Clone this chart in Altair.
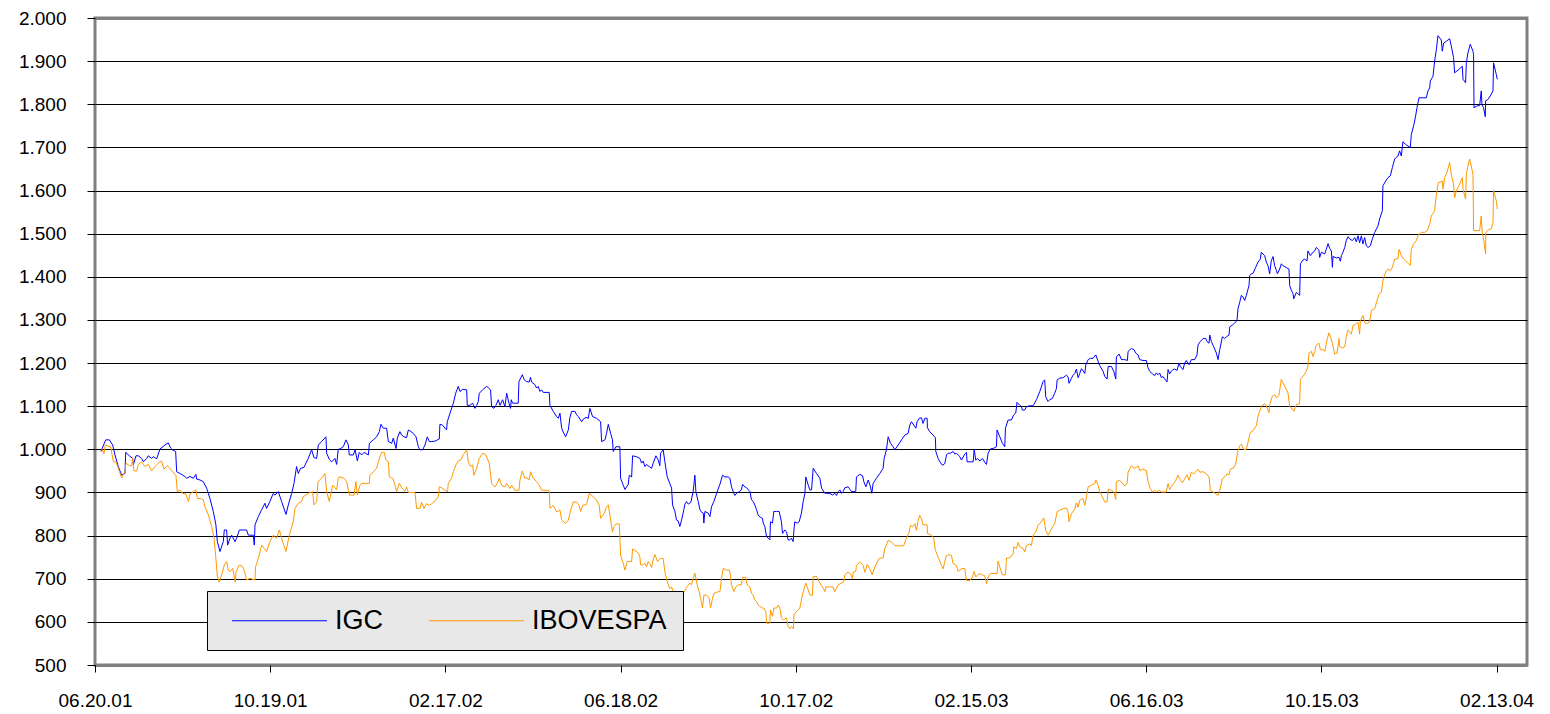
import altair as alt
import pandas as pd

# ---- axis definitions -------------------------------------------------
TICK_DAYS = [0, 121, 242, 363, 484, 605, 726, 847, 968]          # days after 06.20.01
TICK_LABELS = ["06.20.01", "10.19.01", "02.17.02", "06.18.02", "10.17.02",
               "02.15.03", "06.16.03", "10.15.03", "02.13.04"]
Y_TICKS = list(range(500, 2001, 100))
SERIES = ["IGC", "IBOVESPA"]
COLORS = ["#0000FF", "#FF9900"]

# ---- series (day after 06.20.01, index level) -------------------------
igc = [
    (4.1, 995), (7.4, 1022), (9.9, 1022), (12.2, 1010), (13.8, 987), (16.1, 960), (18.4, 940), (20.7, 944),
    (21.2, 993), (23.7, 985), (26.0, 979), (26.5, 964), (28.3, 985), (29.9, 985), (32.2, 979), (33.4, 971),
    (35.7, 979), (36.8, 985), (39.1, 979), (40.3, 983), (42.6, 978), (44.9, 1001), (48.3, 1010), (50.6, 1015),
    (52.2, 1003), (53.4, 999), (55.7, 995), (56.4, 948), (59.2, 943), (62.1, 937), (63.3, 933), (65.6, 937),
    (67.9, 933), (69.7, 942), (70.2, 931), (72.5, 929), (74.8, 925), (77.1, 910), (79.4, 886), (81.7, 856),
    (83.5, 825), (84.5, 786), (86.3, 763), (88.6, 786), (89.3, 813), (90.9, 813), (91.6, 778), (93.2, 794),
    (94.4, 801), (96.7, 786), (97.8, 794), (99.7, 813), (102.4, 813), (104.7, 813), (105.9, 801), (109.3, 801),
    (110.0, 778), (110.5, 825), (112.8, 844), (115.1, 860), (117.4, 875), (118.5, 863), (120.8, 879), (123.1, 898),
    (124.3, 894), (126.6, 902), (128.9, 879), (131.9, 849), (133.5, 871), (135.8, 898), (137.4, 920), (139.2, 960),
    (140.4, 944), (142.0, 956), (144.3, 958), (145.7, 968), (147.3, 979), (149.6, 999), (151.2, 981), (153.1, 979),
    (154.2, 1010), (156.5, 1018), (159.5, 1029), (160.0, 991), (161.8, 977), (163.4, 971), (165.7, 979), (166.9, 965),
    (168.0, 1000),
    (169.2, 1001), (171.5, 1006), (173.3, 1022), (175.0, 1010), (175.6, 987), (178.4, 987), (179.6, 999), (181.2, 973),
    (182.5, 993), (184.2, 987), (185.8, 993), (188.8, 987), (189.5, 1014), (192.2, 1022), (194.5, 1029), (196.4, 1041),
    (197.5, 1058), (199.1, 1049), (201.4, 1049), (202.6, 1018), (204.9, 1014), (206.0, 1026), (207.9, 1002), (208.8, 1026),
    (210.6, 1041), (211.8, 1033), (213.4, 1029), (215.2, 1027), (216.4, 1045), (217.5, 1043), (219.8, 1037), (221.7, 1029),
    (223.3, 1006), (224.4, 999), (226.3, 999), (227.9, 1010), (229.5, 1029), (230.9, 1018), (232.5, 1018), (234.8, 1019),
    (237.8, 1024), (238.2, 1058), (240.1, 1056), (241.7, 1049), (242.8, 1045), (243.3, 1064), (245.2, 1084), (247.5, 1107),
    (249.1, 1130), (250.9, 1146), (252.1, 1134), (253.9, 1139), (256.7, 1138), (257.1, 1102), (258.9, 1102), (260.8, 1107),
    (262.4, 1095), (263.6, 1102), (264.7, 1111), (265.4, 1130), (267.7, 1138), (270.5, 1146), (271.6, 1143), (273.2, 1138),
    (273.9, 1099), (275.5, 1095), (276.9, 1102), (278.5, 1115), (279.7, 1102), (281.5, 1115), (283.1, 1099), (284.3, 1130),
    (285.9, 1107), (287.0, 1095), (287.5, 1115), (288.4, 1107), (292.3, 1107), (292.8, 1157), (295.1, 1173), (296.5, 1161),
    (298.1, 1157), (299.9, 1156), (300.8, 1167), (301.5, 1156), (303.8, 1150), (305.0, 1142), (306.1, 1146), (307.3, 1134),
    (308.4, 1138), (309.6, 1132), (313.7, 1132), (314.2, 1102), (316.5, 1088), (318.8, 1076), (320.0, 1072), (321.1, 1084),
    (322.3, 1049), (323.4, 1040), (325.0, 1029), (326.9, 1045), (328.0, 1074), (329.2, 1088), (331.5, 1088), (332.6, 1080),
    (333.8, 1076), (336.1, 1064), (337.2, 1070), (339.1, 1074), (340.7, 1072), (341.8, 1095),
    (343.6, 1076), (346.4, 1072), (349.2, 1064), (349.9, 1018), (352.2, 1022), (353.3, 1037), (354.5, 1058), (356.1, 1037),
    (357.4, 1022), (357.9, 995), (359.8, 1006), (362.5, 1006), (363.0, 933), (364.8, 917), (366.0, 907), (368.3, 919),
    (369.0, 940), (370.6, 936), (371.3, 985), (374.0, 983), (376.3, 979), (377.5, 968), (378.6, 973), (379.8, 960),
    (380.9, 965), (382.8, 960), (384.4, 956), (385.5, 968), (387.4, 985), (389.0, 975), (390.1, 962), (390.6, 991),
    (392.4, 999), (393.6, 971), (395.2, 936), (397.0, 921), (398.2, 910), (398.9, 871), (400.5, 856), (401.6, 836),
    (402.8, 834), (403.9, 821), (405.1, 836), (406.7, 860), (407.4, 873), (408.5, 879), (409.7, 873), (411.5, 877),
    (413.1, 902), (414.3, 940), (415.0, 902), (416.6, 879), (417.8, 860), (418.4, 856), (420.1, 852), (420.5, 829),
    (421.2, 856), (423.5, 852), (424.7, 844), (425.8, 867), (427.4, 879), (429.3, 898), (431.6, 919), (433.4, 940),
    (435.0, 936), (437.3, 936), (438.5, 933), (439.6, 913), (441.2, 898), (441.9, 893), (443.1, 898), (444.9, 902),
    (446.5, 906), (447.2, 919), (448.8, 913), (450.0, 911), (452.3, 902), (453.4, 883), (454.6, 879), (455.7, 871),
    (456.9, 860), (458.0, 848), (459.6, 842), (461.0, 840), (461.5, 829), (462.6, 821), (463.8, 798), (464.9, 794),
    (466.1, 790), (466.5, 832), (467.9, 829), (468.8, 856), (470.7, 856), (472.5, 856), (474.1, 832), (474.8, 805),
    (476.4, 813), (477.6, 809), (478.7, 790), (479.9, 790), (481.0, 794), (482.2, 786), (482.7, 813), (483.3, 832),
    (485.0, 829), (486.3, 832), (487.9, 852), (489.1, 879), (490.3, 898), (490.9, 936), (492.6, 917), (493.7, 906),
    (494.9, 906), (496.0, 956), (498.3, 944), (500.6, 933), (501.8, 910), (504.1, 898), (505.2, 898), (507.5, 898),
    (509.4, 894), (511.0, 898), (512.1, 893), (513.3, 902), (514.4, 906), (515.6, 898), (516.7, 902), (517.9, 911),
    (520.2, 913),
    (520.8, 910), (522.5, 902), (525.4, 902), (525.9, 936), (528.2, 942), (530.1, 939), (531.0, 925), (532.4, 913),
    (534.0, 929), (535.6, 913), (536.5, 898), (537.4, 921), (539.7, 933), (542.0, 944), (544.3, 956), (545.0, 979),
    (546.6, 999), (547.8, 1029), (549.4, 1014), (551.2, 1006), (552.4, 999), (554.7, 1010), (557.0, 1022), (559.3, 1033),
    (561.6, 1037), (562.7, 1056), (563.9, 1064), (565.5, 1056), (566.9, 1049), (567.8, 1064), (569.2, 1072), (570.8, 1073),
    (571.9, 1060), (573.1, 1072), (574.7, 1072), (574.9, 1050), (576.5, 1041), (578.8, 1033), (580.4, 1027), (580.7, 995),
    (582.3, 979), (583.5, 971), (585.3, 963), (586.9, 967), (588.1, 987), (589.2, 991), (590.8, 991), (592.7, 995),
    (593.8, 989), (594.9, 991), (596.1, 987), (597.3, 983), (598.4, 975), (600.7, 989), (601.9, 993), (602.3, 971),
    (606.5, 971), (607.2, 1000), (608.3, 975), (609.5, 979), (611.1, 973), (612.9, 979), (614.5, 970), (615.7, 965),
    (616.8, 991), (618.4, 1001), (620.3, 1002), (622.6, 1006), (623.0, 1045), (624.9, 1029), (626.7, 1014), (628.3, 1006),
    (628.8, 1049), (630.6, 1068), (632.9, 1068), (634.5, 1080), (635.9, 1084), (636.8, 1109), (638.7, 1102), (639.8, 1099),
    (640.5, 1091), (642.1, 1091), (643.3, 1099), (645.6, 1101), (647.9, 1101), (650.2, 1115), (652.5, 1134), (654.8, 1157),
    (655.9, 1161), (656.6, 1122), (658.2, 1111), (659.4, 1115), (661.2, 1118), (662.8, 1130), (664.0, 1141), (664.5, 1161),
    (666.3, 1165), (668.6, 1166), (670.9, 1172), (672.1, 1168), (672.7, 1153), (674.4, 1165), (675.5, 1172), (676.7, 1176),
    (677.8, 1186), (679.0, 1166), (680.1, 1176), (681.3, 1187), (683.6, 1176), (684.3, 1196), (685.9, 1208), (687.5, 1211),
    (689.3, 1211), (691.2, 1219), (692.8, 1204), (693.9, 1194),
    (696.2, 1181), (697.4, 1169), (699.0, 1163), (699.7, 1192), (702.0, 1192), (703.6, 1181), (705.0, 1163), (705.4, 1214),
    (707.3, 1221), (708.9, 1208), (711.2, 1208), (713.0, 1206), (713.5, 1227), (715.8, 1234), (717.6, 1231), (718.8, 1223),
    (720.4, 1219), (721.5, 1208), (723.8, 1206), (726.1, 1206), (727.3, 1189), (728.4, 1181), (730.3, 1175), (731.9, 1171),
    (733.0, 1177), (734.2, 1173), (735.3, 1177), (736.5, 1166), (737.6, 1169), (738.8, 1163), (740.4, 1156), (741.1, 1185),
    (742.2, 1175), (743.4, 1181), (744.5, 1185), (745.7, 1186), (747.3, 1183), (748.7, 1200), (749.6, 1192), (751.4, 1185),
    (752.6, 1200), (753.7, 1206), (755.6, 1196), (757.2, 1208), (759.5, 1208), (761.1, 1219), (761.8, 1242), (763.4, 1250),
    (765.3, 1257), (767.1, 1257), (768.0, 1250), (769.4, 1246), (769.9, 1265), (771.0, 1250), (772.6, 1238), (774.5, 1223),
    (775.6, 1208), (776.8, 1231), (778.6, 1261), (780.2, 1257), (781.4, 1261), (783.2, 1265), (783.7, 1284), (785.5, 1288),
    (787.1, 1293), (788.7, 1298), (789.4, 1326), (790.6, 1341), (791.7, 1357), (792.9, 1353), (794.0, 1345), (795.2, 1357),
    (797.0, 1380), (797.5, 1403), (798.6, 1407), (799.8, 1408), (801.6, 1422), (803.2, 1434), (804.8, 1441), (805.5, 1457),
    (807.8, 1449), (809.0, 1434), (810.1, 1426), (811.3, 1407), (812.4, 1437), (813.6, 1447), (814.7, 1426), (815.9, 1415),
    (816.6, 1407), (818.2, 1418), (819.3, 1430), (820.5, 1426), (822.8, 1421), (824.6, 1418), (825.1, 1380), (826.2, 1369),
    (827.4, 1361), (827.9, 1349), (829.7, 1364), (832.0, 1357), (832.5, 1430), (834.3, 1439), (835.4, 1441), (837.1, 1437),
    (837.7, 1460), (839.4, 1449), (841.2, 1457), (842.4, 1460), (843.5, 1468), (845.3, 1462), (845.8, 1445), (847.0, 1457),
    (849.3, 1453), (850.4, 1464), (851.6, 1477), (852.7, 1466), (853.9, 1460), (854.6, 1422), (855.0, 1447), (857.3, 1444),
    (859.2, 1445), (860.1, 1436), (860.8, 1449), (861.9, 1457), (863.1, 1468), (864.2, 1484), (865.4, 1493),
    (866.5, 1488), (868.4, 1484), (870.0, 1491), (871.1, 1481), (872.3, 1495), (873.4, 1479), (874.6, 1495), (875.7, 1476),
    (876.9, 1491), (878.0, 1472), (879.2, 1468), (880.8, 1472), (882.2, 1488), (883.8, 1503), (886.1, 1518), (887.2, 1534),
    (889.1, 1553), (889.5, 1611), (891.4, 1622), (893.0, 1630), (894.6, 1634), (896.0, 1653), (897.6, 1673), (898.7, 1677),
    (899.9, 1680), (901.0, 1692), (902.2, 1680), (903.3, 1713), (905.2, 1707), (906.8, 1703), (908.4, 1700), (909.1, 1730),
    (910.7, 1750), (912.1, 1773), (913.0, 1792), (914.4, 1815), (917.2, 1815), (919.5, 1815), (920.6, 1831), (921.8, 1838),
    (922.2, 1854), (924.1, 1865), (925.2, 1900), (926.4, 1927), (927.5, 1959), (929.8, 1949), (930.5, 1923), (931.4, 1942),
    (933.3, 1946), (935.6, 1952), (936.7, 1935), (938.3, 1908), (939.0, 1873), (940.6, 1877), (942.0, 1881), (944.3, 1888),
    (944.8, 1858), (946.6, 1850), (947.1, 1896), (948.2, 1919), (949.8, 1939), (951.7, 1923), (952.1, 1915), (952.4, 1792),
    (954.4, 1796), (956.3, 1797), (957.4, 1831), (957.9, 1799), (959.0, 1792), (960.2, 1771), (960.4, 1808), (962.0, 1811),
    (963.6, 1819), (965.5, 1831), (965.9, 1896), (967.8, 1869), (968.5, 1858),
]

ibov = [
    (4.6, 1001), (6.2, 990), (7.1, 1010), (10.8, 1006), (12.7, 971), (14.5, 971), (16.1, 956), (18.4, 934),
    (20.7, 948), (21.4, 968), (23.7, 962), (25.3, 962), (26.0, 979), (26.9, 950), (28.8, 950), (29.9, 965),
    (32.2, 971), (34.5, 960), (36.8, 965), (39.1, 950), (41.4, 960), (43.7, 968), (46.0, 973), (47.6, 954),
    (49.9, 962), (51.8, 956), (53.6, 948), (55.9, 939), (56.9, 901), (58.7, 906), (60.5, 898), (62.8, 896),
    (64.5, 879), (65.6, 896), (67.9, 902), (69.7, 906), (70.7, 886), (73.0, 886), (74.8, 883), (75.9, 867),
    (78.3, 848), (80.6, 821), (82.2, 794), (83.5, 747), (84.5, 705), (85.8, 692), (87.5, 709), (89.3, 732),
    (90.9, 740), (92.1, 720), (93.2, 716), (95.1, 724), (96.9, 692), (97.4, 716), (99.7, 732), (102.0, 728),
    (103.6, 713), (104.7, 697), (107.0, 701), (110.5, 697), (110.9, 728), (112.8, 747), (115.1, 778), (118.5, 763),
    (120.8, 786), (123.1, 801), (125.4, 794), (127.3, 813), (129.6, 786), (131.9, 763), (134.2, 801), (136.9, 832),
    (138.1, 863), (140.4, 875), (142.7, 879), (143.8, 890), (147.3, 898), (150.3, 902), (151.2, 871), (153.1, 879),
    (154.0, 925), (156.5, 933), (158.8, 944), (160.0, 902), (161.8, 879), (164.1, 917), (166.9, 906), (168.0, 934),
    (169.2, 936), (172.0, 933), (173.8, 925), (175.6, 894), (178.9, 894), (180.2, 925), (181.2, 894), (183.0, 917),
    (184.2, 921), (189.5, 921), (189.9, 940), (192.2, 948), (194.5, 956), (195.7, 971), (196.8, 983), (198.0, 993),
    (199.8, 993), (200.9, 975), (202.6, 971), (203.3, 936), (205.6, 933), (207.2, 917), (208.3, 902), (210.2, 921),
    (211.8, 911), (214.1, 903), (215.2, 913), (216.4, 900), (221.0, 900), (222.1, 863), (224.4, 863), (225.6, 877),
    (227.2, 863), (229.0, 874), (230.9, 870), (232.5, 874), (234.8, 880), (237.1, 890), (237.8, 913), (239.4, 911),
    (241.7, 905), (243.5, 902), (244.0, 921), (246.3, 933), (247.5, 948), (249.3, 964), (250.9, 973), (252.5, 975),
    (254.4, 988), (256.7, 999), (257.8, 971), (259.4, 960), (260.8, 964), (261.7, 940), (263.6, 956), (265.4, 979),
    (267.7, 991), (270.0, 987), (272.3, 967), (273.9, 921), (276.2, 913), (277.8, 921), (279.2, 933), (280.8, 917),
    (283.1, 913), (284.3, 921), (286.6, 909), (287.7, 917), (290.0, 905), (292.8, 905), (293.5, 929), (295.1, 950),
    (296.9, 933), (298.1, 934), (299.9, 929), (300.8, 948), (302.7, 933), (305.0, 925), (306.8, 917), (308.4, 905),
    (313.7, 905), (314.2, 863), (316.5, 870), (318.8, 855), (321.1, 859), (322.3, 836), (325.0, 828), (326.9, 836),
    (328.5, 859), (330.3, 878), (332.6, 878), (334.4, 870), (335.4, 856), (336.8, 870), (339.5, 872), (341.4, 898),
    (344.1, 890), (346.4, 883), (348.2, 871), (349.2, 840), (351.0, 848), (352.2, 856), (353.3, 867), (354.5, 871),
    (355.6, 848), (357.4, 808), (358.4, 821), (359.8, 827), (362.1, 827), (363.0, 755), (364.8, 736), (366.0, 720),
    (367.6, 740), (370.6, 740), (371.3, 769), (373.6, 764), (375.2, 759), (376.3, 751), (376.8, 732), (378.6, 732),
    (379.8, 736), (380.9, 728), (382.1, 740), (383.7, 732), (384.4, 726), (385.5, 744), (386.7, 756), (388.5, 740),
    (389.7, 744), (390.6, 747), (392.4, 747), (393.6, 716), (395.2, 693), (397.0, 677), (398.2, 681), (399.3, 670),
    (401.2, 666), (404.0, 660), (406.2, 665), (408.5, 680), (410.8, 690), (412.0, 686), (413.1, 701), (414.3, 713),
    (415.9, 686), (417.3, 670), (418.2, 655), (419.6, 632), (420.5, 662), (422.4, 662), (424.2, 655), (425.1, 632),
    (426.5, 655), (427.4, 666), (430.4, 670), (431.6, 670), (432.7, 701), (433.9, 724), (436.2, 720), (438.0, 720),
    (438.5, 716), (439.6, 686), (441.2, 670), (442.6, 681), (444.2, 686), (446.5, 686), (447.2, 703), (449.5, 703),
    (450.4, 686), (452.3, 681), (453.4, 666), (454.6, 662), (455.7, 651), (456.9, 647), (458.0, 639), (459.2, 636),
    (461.0, 632), (461.9, 632), (463.3, 624), (463.8, 597), (466.1, 597), (466.5, 628), (467.9, 613), (468.8, 632),
    (470.7, 632), (471.8, 639), (473.0, 632), (474.1, 609), (475.3, 605), (477.6, 609), (478.7, 589), (479.9, 584),
    (481.0, 589), (482.4, 584), (482.7, 616), (484.5, 624), (486.8, 632), (487.9, 651), (489.1, 670), (490.9, 690),
    (492.6, 674), (493.7, 662), (495.5, 662), (496.0, 705), (498.3, 705), (500.6, 690), (502.9, 678), (504.1, 670),
    (504.7, 681), (509.8, 681), (510.9, 670), (512.1, 678), (513.3, 686), (515.6, 690), (517.2, 693), (517.9, 709),
    (520.2, 716),
    (522.5, 707), (523.1, 700), (523.6, 715), (525.4, 717), (525.9, 731), (528.2, 739), (530.5, 731), (531.7, 715),
    (533.3, 733), (535.1, 723), (536.7, 709), (538.6, 727), (540.9, 743), (542.0, 748), (544.3, 748), (545.5, 770),
    (547.8, 789), (550.1, 785), (552.4, 777), (554.7, 776), (557.0, 776), (558.6, 777), (560.4, 794), (562.3, 808),
    (563.2, 824), (564.6, 820), (566.2, 828), (567.3, 812), (568.5, 835), (569.6, 847), (570.8, 839), (571.9, 825),
    (574.7, 825), (574.9, 805), (577.7, 801), (579.3, 793), (580.4, 766), (582.3, 750), (584.6, 731), (585.7, 723),
    (588.0, 754), (589.9, 756), (591.5, 754), (592.7, 735), (594.9, 731), (596.1, 717), (598.4, 723), (600.7, 724),
    (601.9, 696), (604.2, 696), (606.0, 704), (607.2, 717), (608.3, 704), (610.6, 712), (612.9, 709), (614.5, 707),
    (615.7, 688), (616.8, 704), (618.4, 712), (623.0, 712), (623.7, 741), (624.9, 727), (626.7, 709), (628.8, 709),
    (629.5, 748), (631.8, 748), (634.1, 758), (634.5, 774), (636.4, 770), (637.5, 784), (638.7, 774), (641.0, 770),
    (642.1, 762), (643.3, 777), (645.6, 781), (646.7, 777), (647.9, 801), (649.7, 808), (651.3, 824), (653.6, 832),
    (655.3, 841), (656.6, 812), (658.2, 801), (659.4, 808), (661.2, 820), (662.8, 828), (664.5, 855), (666.3, 859),
    (668.6, 862), (670.9, 864), (672.1, 855), (672.7, 832), (674.4, 851), (676.7, 862), (677.8, 876), (679.0, 866),
    (680.1, 882), (682.4, 886), (683.6, 870), (684.7, 889), (685.9, 913), (688.2, 917), (690.5, 921), (691.2, 929),
    (692.8, 917), (693.9, 902),
    (695.7, 890), (697.4, 878), (699.0, 878), (699.7, 907), (702.0, 905), (703.6, 901), (705.0, 884), (705.4, 925),
    (707.7, 928), (709.6, 921), (711.2, 915), (712.8, 921), (713.5, 947), (715.8, 962), (717.6, 956), (719.2, 958),
    (720.4, 962), (721.5, 951), (723.8, 954), (726.1, 951), (727.3, 925), (728.9, 909), (730.3, 901), (731.9, 905),
    (733.0, 901), (734.9, 905), (736.5, 901), (739.9, 901), (741.1, 921), (742.2, 907), (743.4, 913), (745.0, 921),
    (746.4, 928), (748.0, 940), (749.1, 932), (751.0, 922), (752.6, 932), (754.2, 941), (755.6, 928), (757.2, 947),
    (758.8, 943), (760.2, 948), (761.8, 954), (763.0, 947), (765.3, 948), (767.6, 943), (769.4, 936), (770.3, 905),
    (772.2, 901), (774.0, 897), (775.6, 893), (776.8, 905), (778.6, 932), (780.2, 936), (781.8, 943), (783.2, 941),
    (784.1, 954), (786.0, 956), (787.8, 966), (789.4, 997), (790.6, 1008), (791.7, 1012), (793.3, 1000), (795.2, 1000),
    (796.3, 1016), (797.9, 1039), (799.8, 1043), (802.1, 1055), (803.2, 1077), (805.5, 1100), (807.8, 1106), (809.0, 1100),
    (810.8, 1085), (811.3, 1104), (813.1, 1123), (814.7, 1127), (815.9, 1119), (817.7, 1125), (819.3, 1162), (820.5, 1154),
    (822.3, 1142), (823.9, 1131), (825.1, 1100), (826.2, 1096), (827.9, 1088), (829.7, 1104), (832.0, 1106), (832.5, 1162),
    (834.3, 1169), (836.6, 1181), (837.7, 1192), (838.4, 1223), (840.1, 1227), (841.2, 1215), (842.4, 1227), (843.5, 1242),
    (845.3, 1246), (846.3, 1231), (848.1, 1231), (849.3, 1227), (850.9, 1254), (852.2, 1270), (853.2, 1261), (854.6, 1246),
    (856.2, 1221), (857.8, 1223), (859.2, 1257), (859.6, 1238), (861.5, 1235), (863.1, 1238), (864.2, 1261), (865.4, 1277),
    (866.5, 1272), (867.7, 1267), (868.8, 1287), (871.1, 1291), (872.3, 1295), (873.4, 1267), (873.9, 1298), (875.7, 1310),
    (876.9, 1295), (878.0, 1291), (880.3, 1295), (881.5, 1322), (883.8, 1326), (885.4, 1345), (886.8, 1360), (888.4, 1364),
    (889.5, 1391), (891.4, 1411), (893.0, 1418), (894.6, 1414), (896.0, 1422), (897.6, 1441), (899.9, 1442), (900.6, 1464),
    (902.2, 1449), (903.8, 1441), (906.1, 1434), (908.4, 1426), (909.1, 1464), (910.7, 1476), (912.6, 1484), (913.7, 1496),
    (916.0, 1503), (918.3, 1503), (920.1, 1507), (921.8, 1522), (922.9, 1541), (925.2, 1553), (925.9, 1576), (926.8, 1599),
    (927.7, 1618), (930.5, 1622), (931.0, 1603), (932.1, 1630), (933.7, 1642), (935.6, 1665), (936.7, 1638), (938.3, 1614),
    (939.0, 1583), (940.2, 1599), (942.0, 1611), (944.3, 1630), (944.8, 1603), (946.6, 1580), (947.1, 1638), (948.2, 1657),
    (949.4, 1673), (951.7, 1638), (952.1, 1507), (956.3, 1507), (957.4, 1541), (958.1, 1503), (959.0, 1488), (960.4, 1453),
    (960.6, 1503), (962.7, 1510), (964.3, 1511), (965.5, 1526), (965.9, 1600), (967.8, 1576), (968.5, 1557),
]

rows = []
for name, pts in zip(SERIES, [igc, ibov]):
    for i, (d, v) in enumerate(pts):
        rows.append({"series": name, "day": d, "value": v, "idx": i})
df = pd.DataFrame(rows)

FONT = "Liberation Sans"
x_label_expr = "[" + ",".join(f"'{t}'" for t in TICK_LABELS) + "][round(datum.value / 121)]"

grid_color = {"condition": {"test": "datum.value >= 2000 || datum.value <= 500", "value": "#808080"},
              "value": "#000000"}
grid_width = {"condition": {"test": "datum.value >= 2000 || datum.value <= 500", "value": 3},
              "value": 1}

chart = alt.Chart(df).mark_line(strokeWidth=1).encode(
    x=alt.X("day:Q",
            scale=alt.Scale(domain=[0, 989], nice=False, zero=False),
            axis=alt.Axis(values=TICK_DAYS, labelExpr=x_label_expr, title=None, grid=False,
                          domain=False, tickSize=7, tickColor="#000000", labelPadding=19,
                          labelFontSize=19, labelFont=FONT, labelColor="#000000",
                          labelFlush=False, labelOverlap=False)),
    y=alt.Y("value:Q",
            scale=alt.Scale(domain=[500, 2000], nice=False, zero=False),
            axis=alt.Axis(values=Y_TICKS,
                          labelExpr="replace(format(datum.value, ','), ',', '.')",
                          title=None, grid=True, gridColor=grid_color, gridWidth=grid_width,
                          gridOpacity=1,
                          domain=False, tickSize=8, tickColor="#000000", labelPadding=21,
                          labelFontSize=19, labelFont=FONT, labelColor="#000000",
                          labelOverlap=False)),
    color=alt.Color("series:N",
                    scale=alt.Scale(domain=SERIES, range=COLORS),
                    legend=alt.Legend(title=None, orient="none", legendX=112, legendY=573,
                                      direction="horizontal", columns=2,
                                      symbolType="M-5,0H5", symbolSize=361, symbolStrokeWidth=1,
                                      labelFontSize=27, labelFont=FONT, labelColor="#000000",
                                      labelOffset=42, symbolOffset=43, columnPadding=36,
                                      fillColor="#E8E8E8", strokeColor="#000000", padding=16)),
    order=alt.Order("idx:Q"),
).properties(
    width=1432, height=647,
    autosize=alt.AutoSizeParams(type="none"),
    padding={"left": 87, "top": 10, "right": 15, "bottom": 48},
    background="white",
).configure_view(stroke="#808080", strokeWidth=3)

chart.save("out.html", embed_options={"renderer": "svg", "actions": False})
